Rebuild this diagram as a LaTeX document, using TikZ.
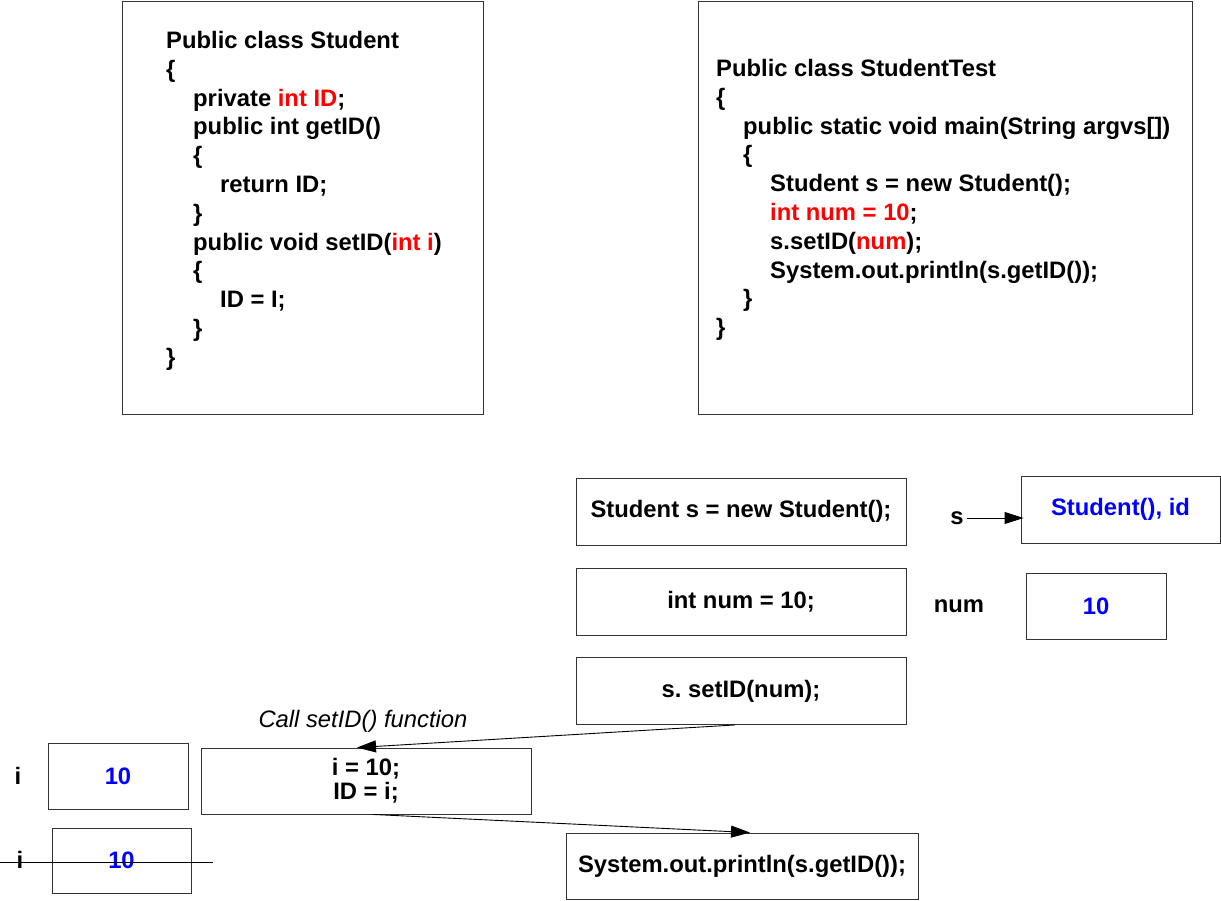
\documentclass[tikz,border=0pt]{standalone}
\usepackage{fontspec}
\setmainfont{Liberation Sans}
\usetikzlibrary{arrows.meta}
\definecolor{codered}{RGB}{255,0,0}
\definecolor{valblue}{RGB}{0,0,255}
\tikzset{
  codetext/.style={font=\fontsize{23.8}{28.8}\selectfont\bfseries, align=left, anchor=north west, inner sep=0pt},
  frame/.style={draw=black!80, line width=0.9pt, inner sep=0pt},
  stepbox/.style={frame, font=\fontsize{23.8}{24}\selectfont\bfseries, align=center, minimum width=330pt, minimum height=67pt},
  membox/.style={frame, font=\fontsize{23.8}{24}\selectfont\bfseries, text=valblue, minimum height=66pt},
  varname/.style={font=\fontsize{23.8}{24}\selectfont\bfseries, inner sep=0pt},
  link/.style={-{Triangle[length=19pt,width=12pt]}, line width=0.9pt}
}
\newcommand{\ind}{\hspace*{27pt}}
\begin{document}
\begin{tikzpicture}[x=1pt,y=-1pt]
\useasboundingbox[fill=white] (0,0) rectangle (1221,901);
% class Student
\node[frame, minimum width=361pt, minimum height=413pt] (studentframe) at (302.5,207.5) {};
\node[codetext] (studentcode) at (166,31) {Public class Student\\
{\char`\{}\\
\ind private \textcolor{codered}{int ID};\\
\ind public int getID()\\
\ind {\char`\{}\\
\ind\ind return ID;\\
\ind {\char`\}}\\
\ind public void setID(\textcolor{codered}{int i})\\
\ind {\char`\{}\\
\ind\ind ID = I;\\
\ind {\char`\}}\\
{\char`\}}};
% class StudentTest
\node[frame, minimum width=494pt, minimum height=413pt] (testframe) at (945,207.5) {};
\node[codetext] (testcode) at (716,59) {Public class StudentTest\\
{\char`\{}\\
\ind public static void main(String argvs[])\\
\ind {\char`\{}\\
\ind\ind Student s = new Student();\\
\ind\ind \textcolor{codered}{int num = 10};\\
\ind\ind s.setID(\textcolor{codered}{num});\\
\ind\ind System.out.println(s.getID());\\
\ind {\char`\}}\\
{\char`\}}};
% steps of main
\node[stepbox] (newstudent) at (741,511.5) {Student s = new Student();};
\node[stepbox] (intnum) at (741,601.5) {int num = 10;};
\node[stepbox] (setid) at (741,691) {s.\ setID(num);};
\node[stepbox, minimum width=352pt, minimum height=66pt] (println) at (742,866) {System.out.println(s.getID());};
% memory
\node[varname] (sref) at (957,518) {s};
\node[membox, minimum width=199pt, minimum height=67pt] (objbox) at (1120.5,509.5) {Student(), id};
\node[varname] (numlabel) at (959,606) {num};
\node[membox, minimum width=140pt] (numbox) at (1096,606) {10};
\draw[link] ([xshift=3pt]sref.east) -- ([xshift=3pt]sref.east -| objbox.west);
% inside setID
\node[font=\fontsize{23.8}{24}\selectfont\itshape, inner sep=0pt] (calllabel) at (363,721) {Call setID() function};
\node[stepbox, minimum height=66pt, align=center, font=\fontsize{23.8}{24}\selectfont\bfseries] (assign) at (366,781) {i = 10;\\ID = i;};
\node[varname] (ilabel) at (18,776) {i};
\node[membox, minimum width=140pt] (ibox) at (118,776) {10};
\node[varname] (ilabeltwo) at (20,860) {i};
\node[membox, minimum width=139pt, minimum height=65pt] (iboxtwo) at (121.5,860.5) {10};
\draw[line width=0.9pt] (0,862) -- (213,862);
\draw[link] ([xshift=-6pt]setid.south) -- ([xshift=-9pt]assign.north);
\draw[link] ([xshift=7pt]assign.south) -- ([xshift=8pt]println.north);
\end{tikzpicture}
\end{document}
